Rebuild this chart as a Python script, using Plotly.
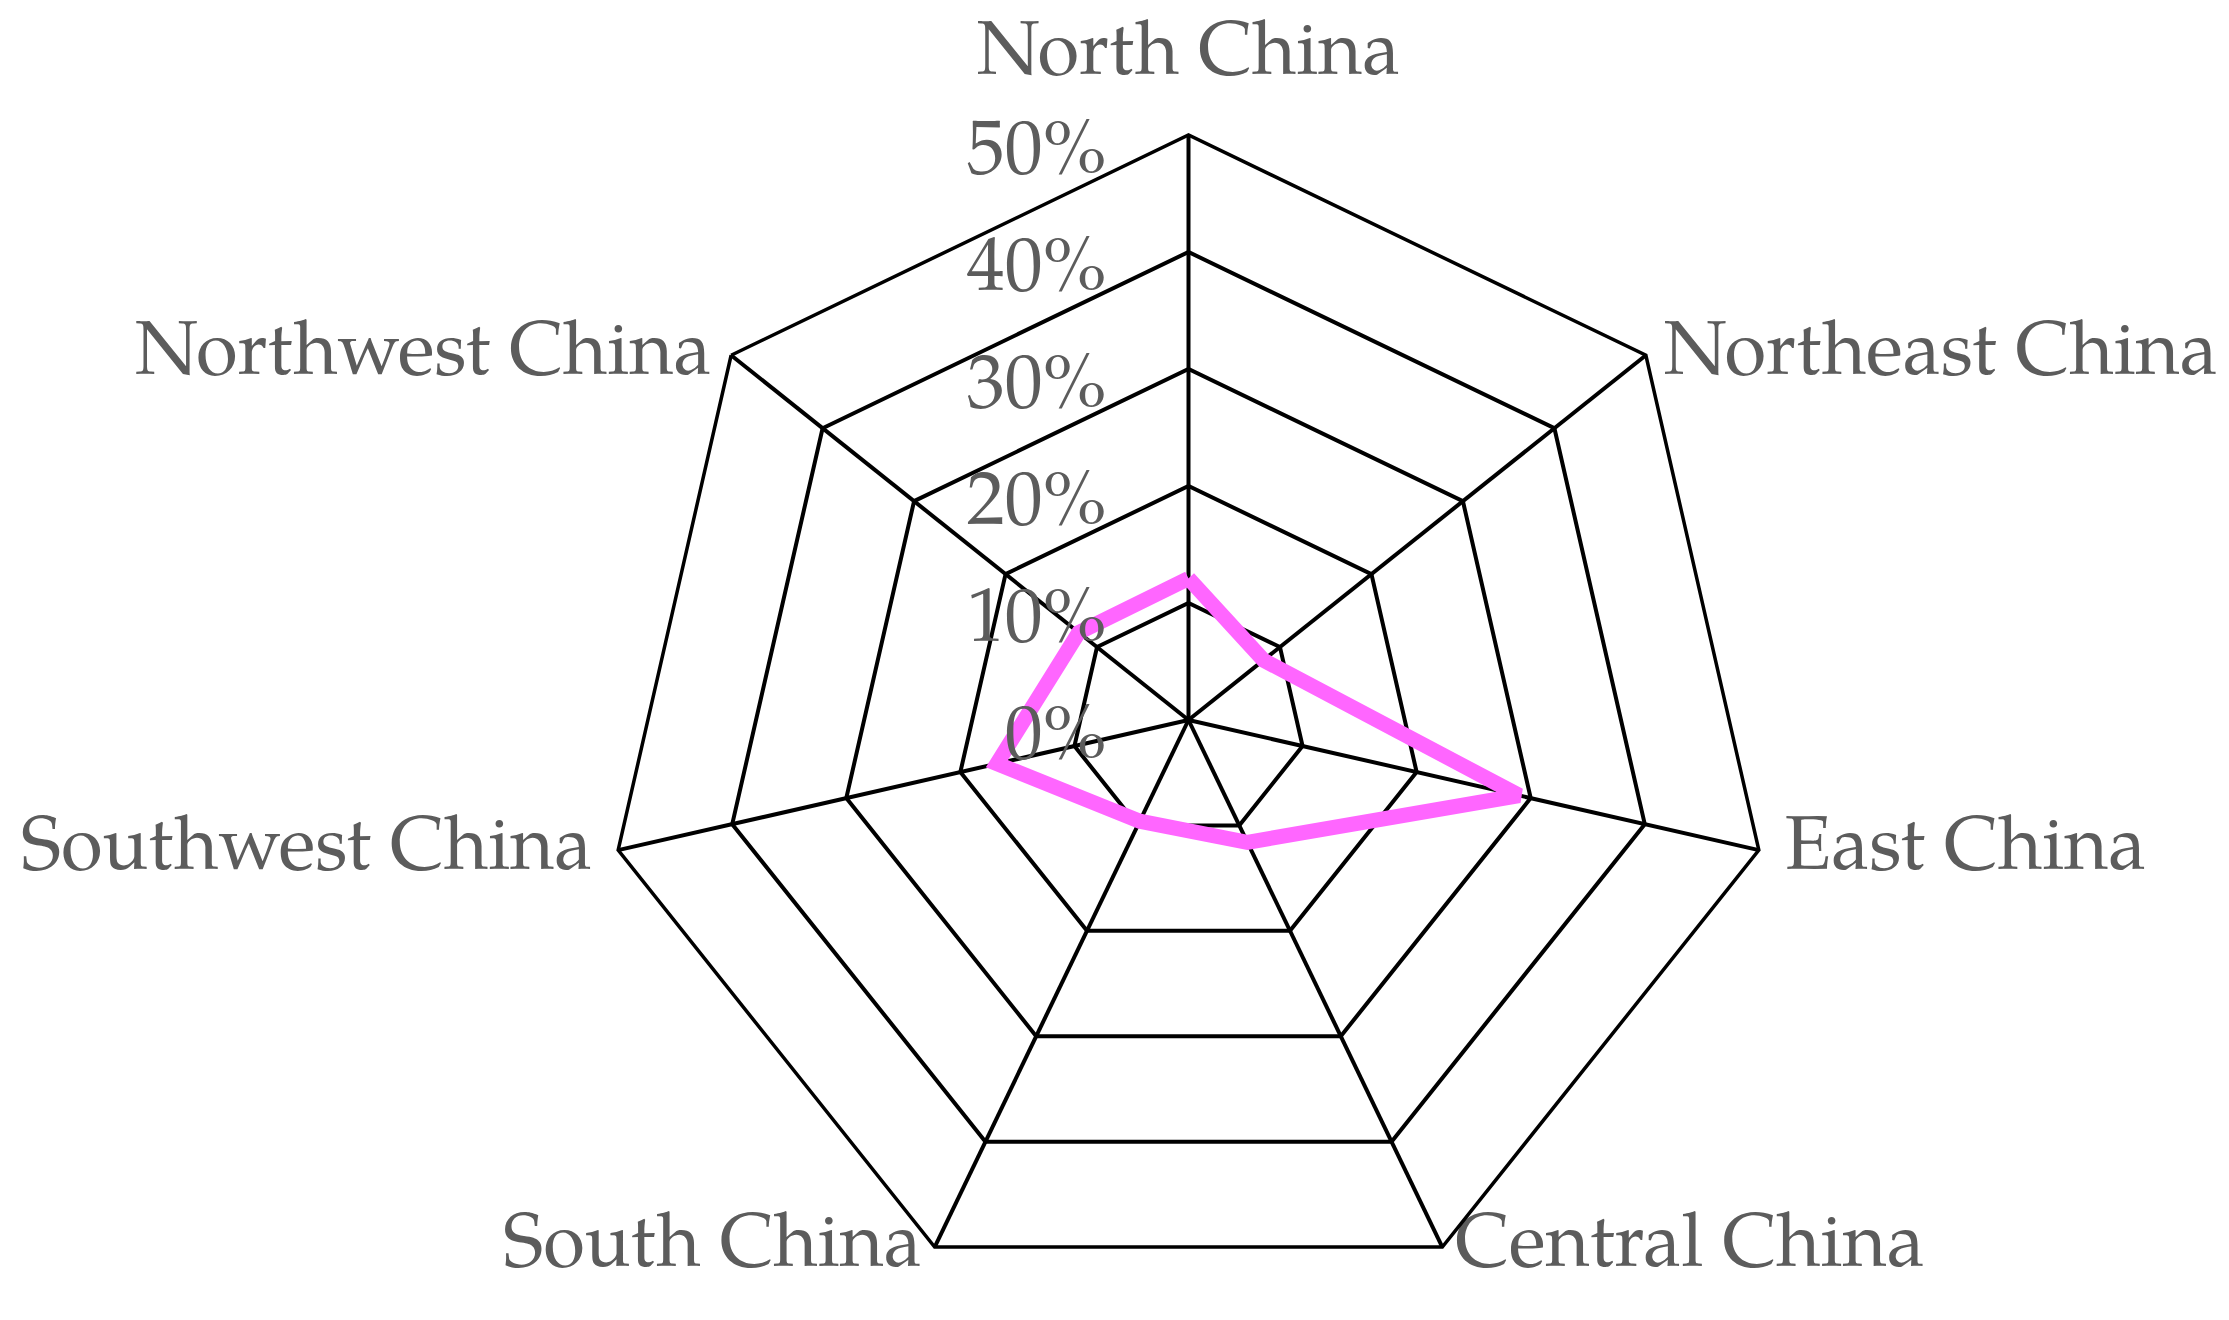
import plotly.graph_objects as go

regioes = ["North China", "Northeast China", "East China", "Central China",
           "South China", "Southwest China", "Northwest China"]
percentuais = [12.1, 8.2, 29.0, 11.6, 9.6, 16.8, 12.0]
ticks_radial = [0, 10, 20, 30, 40, 50]
rotulos_radial = ["0%", "10%", "20%", "30%", "40%", "50%"]

fonte = "Palatino Linotype, Palatino, TeX Gyre Pagella, Liberation Serif, serif"
cinza = "#5c5c5c"
r_max = ticks_radial[-1]

# posicao dos nomes das regioes junto aos vertices
pos_nomes = ["top center", "middle right", "middle right", "middle right",
             "middle left", "middle left", "middle left"]
afast_nomes = [66, 27, 40, 19, 19, 40, 30]

fig = go.Figure()

fig.add_trace(go.Scatterpolar(
    r=percentuais + percentuais[:1],
    theta=regioes + regioes[:1],
    mode="lines",
    line=dict(color="#ff66ff", width=15),
    showlegend=False
))

fig.add_trace(go.Scatterpolar(
    r=[r_max] * len(regioes),
    theta=regioes,
    mode="markers+text",
    text=regioes,
    textposition=pos_nomes,
    textfont=dict(family=fonte, size=76, color=cinza),
    marker=dict(size=afast_nomes, opacity=0),
    hoverinfo="skip",
    showlegend=False,
    cliponaxis=False
))

fig.update_layout(
    width=2229, height=1320,
    paper_bgcolor="white",
    margin=dict(l=137, r=5, t=127, b=23),
    font=dict(family=fonte, size=76, color=cinza),
    polar=dict(
        bgcolor="white",
        gridshape="linear",
        angularaxis=dict(
            rotation=90,
            direction="clockwise",
            showline=True, linecolor="black", linewidth=3.5,
            gridcolor="black", gridwidth=3.5,
            ticks="",
            showticklabels=False
        ),
        radialaxis=dict(
            range=[0, r_max],
            angle=90,
            side="counterclockwise",
            tickvals=ticks_radial,
            ticktext=rotulos_radial,
            showline=False,
            gridcolor="black", gridwidth=3.5,
            ticks="outside", ticklen=13, tickcolor="rgba(0,0,0,0)",
            tickfont=dict(family=fonte, size=76, color=cinza)
        )
    )
)

fig.write_html("out.html")
